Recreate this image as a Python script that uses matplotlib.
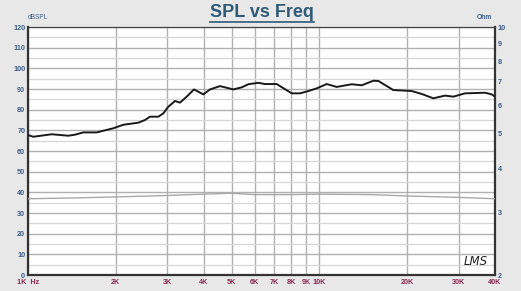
import numpy as np
import matplotlib
matplotlib.use("Agg")
import matplotlib.pyplot as plt
from matplotlib.lines import Line2D

# SPL response (Hz, dB SPL)
spl_freq = [1000, 1043, 1206, 1375, 1450, 1548, 1721, 1813, 1962, 2123, 2390, 2520,
            2621, 2799, 2912, 3029, 3194, 3322, 3503, 3711, 3994, 4211, 4557, 5062,
            5410, 5700, 6168, 6503, 7132, 7320, 8030, 8573, 9154, 9782, 10585, 11456,
            12898, 13959, 15298, 15914, 17915, 19651, 20717, 22421, 24573, 26953,
            28780, 31563, 36966, 38974, 40000]
spl_db = [67.7, 66.9, 68.1, 67.4, 67.9, 69.0, 69.0, 69.8, 71.0, 72.7, 73.7, 75.0,
          76.6, 76.6, 78.2, 81.4, 84.2, 83.4, 86.3, 89.8, 87.4, 89.8, 91.4, 89.8,
          90.8, 92.3, 93.0, 92.4, 92.4, 91.4, 87.9, 87.9, 89.0, 90.3, 92.4, 91.0,
          92.3, 91.8, 94.0, 93.9, 89.5, 89.2, 89.0, 87.6, 85.5, 86.8, 86.3, 87.9,
          88.2, 87.4, 86.3]

# impedance (Hz, Ohm)
imp_freq = [1000, 1500, 2000, 3000, 4000, 5000, 6000, 8000, 10000, 15000, 20000, 30000, 40000]
imp_ohm = [3.28, 3.30, 3.32, 3.35, 3.38, 3.40, 3.37, 3.37, 3.38, 3.37, 3.34, 3.31, 3.28]

x_major = [1000, 2000, 3000, 4000, 5000, 6000, 7000, 8000, 9000, 10000, 20000, 30000, 40000]
x_labels = ["1K  Hz", "2K", "3K", "4K", "5K", "6K", "7K", "8K", "9K", "10K", "20K", "30K", "40K"]
x_minor = [1500, 2500, 3500, 4500, 5500, 6500, 7500, 8500, 9500, 15000, 25000, 35000]
ohm_ticks = [2, 3, 4, 5, 6, 7, 8, 9, 10]

bg = "#e8e8e8"
blue = "#3d5f8a"
red = "#8b2a55"

fig = plt.figure(figsize=(5.21, 2.91), dpi=100, facecolor=bg)
ax = fig.add_axes([28 / 521, 16 / 291, 467 / 521, 248 / 291])
ax.set_facecolor("white")

ax.set_xscale("log")
ax.set_xlim(1000, 40000)
ax.set_ylim(0, 120)
ax.set_xticks(x_major)
ax.set_xticklabels(x_labels)
ax.set_xticks(x_minor, minor=True)
ax.set_xticklabels([], minor=True)
ax.set_yticks(np.arange(0, 121, 10))
ax.set_yticks(np.arange(5, 120, 10), minor=True)

ax.grid(which="major", color="#b0b0b0", lw=1.0)
ax.grid(which="minor", color="#d6d6d6", lw=0.9)
ax.set_axisbelow(True)

ax.tick_params(which="both", length=0)
ax.tick_params(axis="x", pad=3, labelsize=5.2, labelcolor=red)
ax.tick_params(axis="y", pad=2, labelsize=5.2, labelcolor=blue)
for lab in ax.get_xticklabels() + ax.get_yticklabels():
    lab.set_fontweight("bold")
    lab.set_fontfamily("Liberation Sans")

for side in ["left", "bottom", "right"]:
    ax.spines[side].set_color("#333333")
    ax.spines[side].set_linewidth(1.6)
ax.spines["top"].set_color("#444444")
ax.spines["top"].set_linewidth(0.9)

ax.plot(spl_freq, spl_db, color="#1a1a1a", lw=1.4, zorder=4)

ax2 = ax.twinx()
ax2.set_yscale("log")
ax2.set_ylim(2, 10)
ax2.set_yticks(ohm_ticks)
ax2.set_yticklabels([str(t) for t in ohm_ticks])
ax2.minorticks_off()
ax2.tick_params(length=0, pad=2, labelsize=5.2, labelcolor=blue)
for lab in ax2.get_yticklabels():
    lab.set_fontweight("bold")
    lab.set_fontfamily("Liberation Sans")
for sp in ax2.spines.values():
    sp.set_visible(False)
ax2.plot(imp_freq, imp_ohm, color="#a8a8a8", lw=1.0, zorder=3)

fig.text(28 / 521, 1 - 21 / 291, "dBSPL", fontsize=4.8, color=blue,
         family="Liberation Sans", ha="left", va="bottom")
fig.text(492 / 521, 1 - 21 / 291, "Ohm", fontsize=4.8, color=blue, fontweight="bold",
         family="Liberation Sans", ha="right", va="bottom")
ax.text(0.985, 0.03, "LMS", transform=ax.transAxes, fontsize=8.5, style="italic",
        family="DejaVu Sans", color="#222222", ha="right", va="bottom")

title = fig.text(262 / 521, 1 - 17 / 291, "SPL vs Freq", fontsize=13, fontweight="bold",
                 color="#2e5a78", family="Liberation Sans", ha="center", va="baseline")
fig.canvas.draw()
bb = title.get_window_extent()
uy = bb.y0 - 1.0
fig.add_artist(Line2D([bb.x0 / fig.bbox.width, bb.x1 / fig.bbox.width],
                      [uy / fig.bbox.height, uy / fig.bbox.height],
                      transform=fig.transFigure, color="#2e5a78", lw=1.2))

fig.savefig("out.png", dpi=100, facecolor=bg)
